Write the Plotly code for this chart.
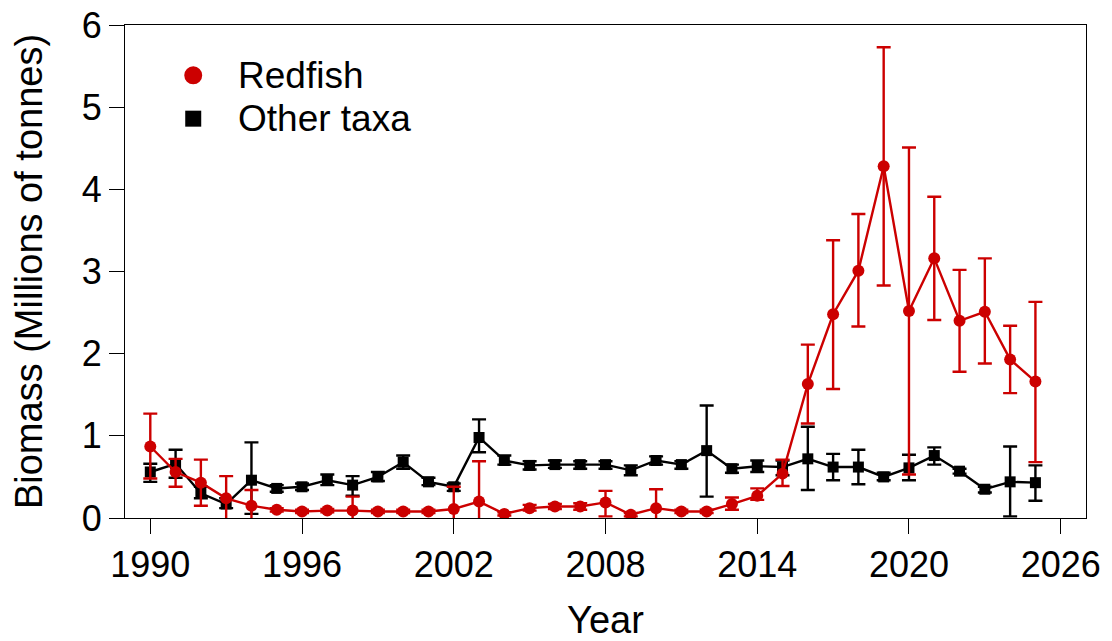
import plotly.graph_objects as go

years = list(range(1990, 2026))

# Redfish biomass (millions of tonnes) with lower / upper bounds
redfish = [0.87, 0.56, 0.43, 0.24, 0.15, 0.10, 0.08, 0.09, 0.09, 0.08,
           0.08, 0.08, 0.11, 0.20, 0.05, 0.12, 0.14, 0.14, 0.19, 0.04,
           0.12, 0.08, 0.08, 0.17, 0.27, 0.54, 1.63, 2.48, 3.01, 4.28,
           2.52, 3.16, 2.40, 2.51, 1.93, 1.66]
redfish_lo = [0.48, 0.38, 0.15, -0.1, -0.1, 0.08, 0.06, 0.07, -0.1, 0.06,
              0.06, 0.06, -0.1, -0.1, 0.03, 0.09, 0.11, 0.10, 0.02, 0.02,
              -0.1, 0.06, 0.06, 0.10, 0.22, 0.39, 1.15, 1.57, 2.33, 2.83,
              0.53, 2.41, 1.78, 1.88, 1.52, 0.68]
redfish_hi = [1.27, 0.72, 0.71, 0.51, 0.34, 0.12, 0.10, 0.11, 0.26, 0.10,
              0.10, 0.10, 0.38, 0.69, 0.07, 0.16, 0.17, 0.18, 0.33, 0.06,
              0.35, 0.10, 0.10, 0.25, 0.36, 0.71, 2.11, 3.38, 3.70, 5.73,
              4.51, 3.91, 3.02, 3.16, 2.34, 2.63]

# Other taxa biomass with lower / upper bounds
other = [0.56, 0.66, 0.30, 0.17, 0.46, 0.36, 0.38, 0.46, 0.40, 0.50,
         0.68, 0.44, 0.38, 0.98, 0.70, 0.64, 0.65, 0.65, 0.65, 0.58,
         0.70, 0.65, 0.82, 0.60, 0.63, 0.62, 0.72, 0.62, 0.62, 0.50,
         0.61, 0.76, 0.57, 0.35, 0.44, 0.43]
other_lo = [0.44, 0.49, 0.24, 0.12, 0.05, 0.32, 0.34, 0.40, 0.27, 0.45,
            0.60, 0.40, 0.33, 0.80, 0.65, 0.59, 0.61, 0.60, 0.60, 0.52,
            0.65, 0.60, 0.26, 0.55, 0.56, 0.52, 0.34, 0.46, 0.41, 0.46,
            0.46, 0.65, 0.54, 0.31, 0.02, 0.21]
other_hi = [0.66, 0.83, 0.38, 0.24, 0.92, 0.40, 0.42, 0.53, 0.51, 0.56,
            0.76, 0.49, 0.42, 1.20, 0.76, 0.69, 0.70, 0.69, 0.69, 0.64,
            0.75, 0.69, 1.37, 0.65, 0.70, 0.70, 1.11, 0.78, 0.83, 0.55,
            0.77, 0.86, 0.60, 0.38, 0.87, 0.64]

legend_names = ["Redfish", "Other taxa"]

RED = "#CC0000"
BLACK = "#000000"
FONT = "Liberation Sans, Arial, sans-serif"

fig = go.Figure()


def add_series(vals, lo, hi, color, symbol, size):
    plus = [h - v for v, h in zip(vals, hi)]
    minus = [v - l for v, l in zip(vals, lo)]
    fig.add_trace(go.Scatter(
        x=years, y=vals, mode="lines+markers", showlegend=False,
        line=dict(color=color, width=2.4),
        marker=dict(color=color, symbol=symbol, size=size),
        error_y=dict(type="data", array=plus, arrayminus=minus, visible=True,
                     color=color, thickness=2.4, width=7),
    ))


add_series(other, other_lo, other_hi, BLACK, "square", 11)
add_series(redfish, redfish_lo, redfish_hi, RED, "circle", 12)

# hand-made legend (markers only, R style spacing)
leg_x, leg_y, leg_dy = 0.071, 0.898, 0.088
for i, (name, color, kind) in enumerate(zip(legend_names, [RED, BLACK], ["circle", "rect"])):
    yy = leg_y - i * leg_dy
    half = 9 if kind == "circle" else 8
    fig.add_shape(type=kind, xref="paper", yref="paper",
                  xsizemode="pixel", ysizemode="pixel",
                  xanchor=leg_x, yanchor=yy,
                  x0=-half, x1=half, y0=-half, y1=half,
                  fillcolor=color, line=dict(width=0))
    fig.add_annotation(text=name, xref="paper", yref="paper",
                       x=leg_x + 0.044, y=yy, xanchor="left", yanchor="middle",
                       showarrow=False, font=dict(size=37, color="black"))

# page body has an 8px margin, so the figure is offset by 8px
fig.update_layout(
    width=1104, height=633,
    paper_bgcolor="white", plot_bgcolor="white",
    margin=dict(l=117, r=26, t=17, b=123),
    font=dict(family=FONT, size=36, color="black"),
    showlegend=False,
)

fig.update_xaxes(
    range=[1989, 2027], tick0=1990, dtick=6,
    showgrid=False, zeroline=False,
    showline=True, linecolor="black", linewidth=1, mirror=True,
    ticks="outside", ticklen=15, tickcolor="black",
    ticklabeloverflow="allow",
    title=dict(text="Year", standoff=31, font=dict(size=38)),
    automargin=False,
)
fig.update_yaxes(
    range=[0, 6], tick0=0, dtick=1,
    showgrid=False, zeroline=False,
    showline=True, linecolor="black", linewidth=1, mirror=True,
    ticks="outside", ticklen=15, tickcolor="black",
    ticklabeloverflow="allow",
    title=dict(text="Biomass (Millions of tonnes)", standoff=29, font=dict(size=38)),
    automargin=False,
)

fig.write_html("out.html")
